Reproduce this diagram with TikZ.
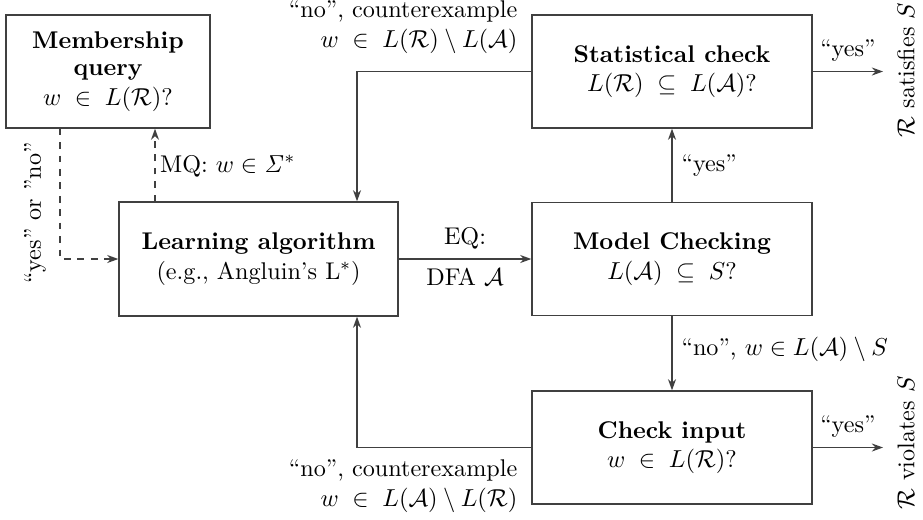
\documentclass[tikz,border=0pt]{standalone}
\usetikzlibrary{arrows.meta,calc}
\begin{document}
\begin{tikzpicture}[x=0.0157cm,y=-0.0157cm,
  every node/.style={font=\fontsize{10.8pt}{13.2pt}\selectfont},
  box/.style={draw=black!75,line width=0.6pt,align=center,inner sep=2pt},
  conn/.style={draw=black!75,line width=0.6pt,-{Stealth[length=5pt,width=3.6pt]}},
  lbl/.style={inner sep=1pt,align=center}]
\useasboundingbox (0,0) rectangle (923,519);
% boxes
\node[box,minimum width=3.203cm,minimum height=1.774cm] (mem) at (108,71.5)
  {\textbf{Membership}\\[-1pt]\textbf{query}\\$w\;\in\;L(\mathcal{R})$?};
\node[box,minimum width=4.380cm,minimum height=1.790cm] (learn) at (258.5,259)
  {\textbf{Learning algorithm}\\(e.g., Angluin's L$^*$)};
\node[box,minimum width=4.396cm,minimum height=1.774cm] (model) at (672,259)
  {\textbf{Model Checking}\\$L(\mathcal{A})\;\subseteq\;S$?};
\node[box,minimum width=4.396cm,minimum height=1.774cm] (stat) at (672,71.5)
  {\textbf{Statistical check}\\$L(\mathcal{R})\;\subseteq\;L(\mathcal{A})$?};
\node[box,minimum width=4.396cm,minimum height=1.774cm] (check) at (672,447.5)
  {\textbf{Check input}\\$w\;\in\;L(\mathcal{R})$?};
% helper points
\coordinate (mqx) at (155,0);
\coordinate (ynx) at (60,0);
\coordinate (cex) at (357,0);
\coordinate (sat) at (883,71.5);
\coordinate (vio) at (883,447.5);
% membership queries
\draw[conn,dashed] (learn.north -| mqx) -- node[lbl,right=1pt,pos=0.48] {MQ: $w\in\mathit{\Sigma}^*$} (mem.south -| mqx);
\draw[conn,dashed] (mem.south -| ynx) |- (learn.west);
\node[lbl,rotate=90] (yn) at (35,213) {``yes'' or ''no''};
% equivalence query
\draw[conn] (learn) -- node[lbl,above=3pt] {EQ:} node[lbl,below=3pt] {DFA $\mathcal{A}$} (model);
% model checking outcomes
\draw[conn] (model) -- node[lbl,right=3pt] {``yes''} (stat);
\draw[conn] (model) -- node[lbl,right=3pt,pos=0.45] {``no'', $w\in L(\mathcal{A})\setminus S$} (check);
% statistical check outcomes
\draw[conn] (stat) -- node[lbl,above=3pt] {``yes''} (sat);
\node[lbl,rotate=90] (satl) at (906,70) {$\mathcal{R}$ satisfies $S$};
\draw[conn] (stat.west) -| (learn.north -| cex);
\node[lbl,align=right,anchor=south east] (ce1) at (520,56) {``no'', counterexample\\$w\;\in\;L(\mathcal{R})\setminus L(\mathcal{A})$};
% check input outcomes
\draw[conn] (check) -- node[lbl,above=3pt] {``yes''} (vio);
\node[lbl,rotate=90] (viol) at (906,443) {$\mathcal{R}$ violates $S$};
\draw[conn] (check.west) -| (learn.south -| cex);
\node[lbl,align=right,anchor=north east] (ce2) at (520,457) {``no'', counterexample\\$w\;\in\;L(\mathcal{A})\setminus L(\mathcal{R})$};
\end{tikzpicture}
\end{document}
